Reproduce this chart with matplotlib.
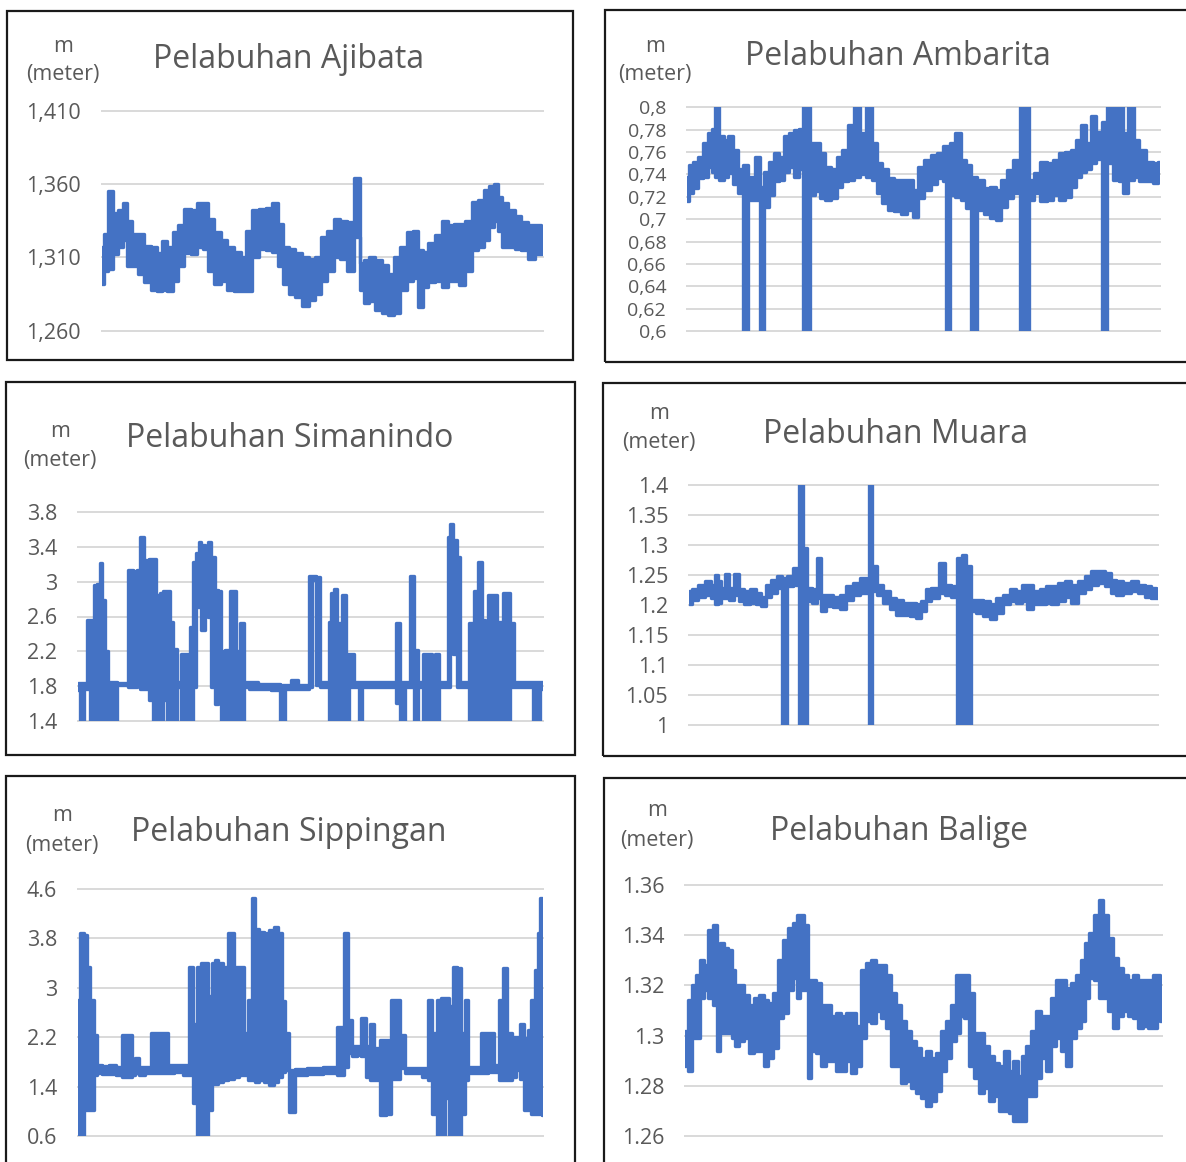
import numpy as np
import matplotlib
matplotlib.use("Agg")
import matplotlib.pyplot as plt
from matplotlib.patches import Rectangle

# ---------------- data ----------------
# sample position along the record, upper / lower envelope of the noisy trace
ajibata_t = [48, 60, 75, 90, 105, 118, 130, 145, 165, 185, 205, 220, 235, 255, 270, 285, 305, 325, 345, 360,
             375, 395, 415, 435, 455, 475, 490, 510, 530, 550, 570, 585, 600, 620, 640, 660, 680, 700, 715, 735,
             755, 775, 795, 818, 830, 845, 860, 880, 900, 920, 935, 955, 975, 990, 1005, 1020, 1040, 1060, 1080, 1100,
             1115, 1130, 1150, 1170, 1190, 1205, 1220, 1235, 1245, 1260, 1280, 1300, 1320, 1340, 1360, 1375]
ajibata_hi = [1.317, 1.326, 1.355, 1.340, 1.342, 1.347, 1.335, 1.326, 1.326, 1.318, 1.317, 1.313, 1.321, 1.317, 1.327,
              1.332, 1.343, 1.342, 1.347, 1.347, 1.336, 1.327, 1.322, 1.317, 1.314, 1.310, 1.328, 1.342, 1.343, 1.344,
              1.347, 1.333, 1.317, 1.316, 1.313, 1.310, 1.309, 1.310, 1.324, 1.328, 1.336, 1.335, 1.334, 1.364, 1.306,
              1.308, 1.310, 1.308, 1.305, 1.299, 1.310, 1.317, 1.327, 1.328, 1.315, 1.314, 1.320, 1.325, 1.335, 1.332,
              1.333, 1.333, 1.335, 1.348, 1.349, 1.356, 1.359, 1.360, 1.351, 1.347, 1.342, 1.338, 1.334, 1.332, 1.332,
              1.327]
ajibata_lo = [1.292, 1.301, 1.302, 1.312, 1.317, 1.322, 1.304, 1.304, 1.299, 1.293, 1.288, 1.287, 1.288, 1.287, 1.294,
              1.304, 1.313, 1.312, 1.317, 1.316, 1.301, 1.292, 1.294, 1.288, 1.287, 1.287, 1.287, 1.310, 1.316, 1.315,
              1.314, 1.304, 1.292, 1.285, 1.283, 1.277, 1.281, 1.285, 1.294, 1.301, 1.310, 1.309, 1.301, 1.324, 1.288,
              1.279, 1.280, 1.274, 1.272, 1.271, 1.272, 1.288, 1.294, 1.296, 1.276, 1.290, 1.293, 1.294, 1.290, 1.294,
              1.294, 1.291, 1.301, 1.315, 1.317, 1.322, 1.331, 1.335, 1.328, 1.317, 1.317, 1.316, 1.315, 1.309, 1.312,
              1.312]
ajibata_ticks = [1.410, 1.360, 1.310, 1.260]
ajibata_labels = ["1,410", "1,360", "1,310", "1,260"]

ambarita_t = [45, 55, 70, 85, 100, 115, 125, 135, 150, 165, 175, 190, 205, 220, 240, 260, 270, 285, 300, 315,
              330, 345, 360, 375, 390, 400, 410, 425, 440, 455, 470, 490, 505, 520, 540, 560, 575, 595, 610, 625,
              640, 660, 680, 700, 720, 735, 750, 770, 790, 810, 825, 830, 845, 865, 880, 895, 910, 930, 950, 970,
              985, 1000, 1020, 1040, 1060, 1070, 1085, 1100, 1120, 1140, 1160, 1175, 1195, 1215, 1225, 1240, 1255,
              1270, 1290, 1305, 1320, 1340, 1355, 1365, 1385, 1400, 1420, 1440, 1460, 1472]
ambarita_hi = [0.738, 0.748, 0.751, 0.756, 0.768, 0.777, 0.781, 0.800, 0.774, 0.771, 0.774, 0.762, 0.745, 0.748, 0.738,
               0.756, 0.729, 0.742, 0.751, 0.759, 0.756, 0.774, 0.777, 0.780, 0.781, 0.800, 0.800, 0.768, 0.768, 0.759,
               0.747, 0.745, 0.756, 0.762, 0.784, 0.800, 0.777, 0.800, 0.768, 0.750, 0.745, 0.737, 0.735, 0.735, 0.735,
               0.726, 0.747, 0.753, 0.757, 0.759, 0.765, 0.765, 0.768, 0.777, 0.753, 0.748, 0.738, 0.735, 0.728, 0.729,
               0.726, 0.735, 0.744, 0.753, 0.800, 0.800, 0.735, 0.741, 0.751, 0.750, 0.753, 0.759, 0.760, 0.762, 0.771,
               0.784, 0.768, 0.792, 0.778, 0.787, 0.800, 0.800, 0.800, 0.777, 0.800, 0.771, 0.762, 0.751, 0.750, 0.751]
ambarita_lo = [0.716, 0.723, 0.728, 0.737, 0.738, 0.747, 0.742, 0.738, 0.735, 0.738, 0.741, 0.731, 0.723, 0.600, 0.717,
               0.717, 0.600, 0.711, 0.722, 0.734, 0.735, 0.742, 0.747, 0.738, 0.745, 0.600, 0.600, 0.722, 0.725, 0.719,
               0.717, 0.719, 0.729, 0.734, 0.735, 0.738, 0.740, 0.738, 0.735, 0.723, 0.714, 0.708, 0.707, 0.705, 0.708,
               0.702, 0.719, 0.726, 0.731, 0.737, 0.734, 0.600, 0.722, 0.720, 0.717, 0.710, 0.600, 0.708, 0.705, 0.701,
               0.699, 0.711, 0.719, 0.723, 0.600, 0.600, 0.717, 0.723, 0.716, 0.717, 0.722, 0.717, 0.720, 0.729, 0.738,
               0.742, 0.745, 0.750, 0.754, 0.600, 0.750, 0.735, 0.734, 0.723, 0.735, 0.738, 0.734, 0.734, 0.732, 0.735]
ambarita_ticks = [0.80, 0.78, 0.76, 0.74, 0.72, 0.70, 0.68, 0.66, 0.64, 0.62, 0.60]
ambarita_labels = ["0,8", "0,78", "0,76", "0,74", "0,72", "0,7", "0,68", "0,66", "0,64", "0,62", "0,6"]

simanindo_t = [38, 50, 62, 70, 80, 90, 100, 107, 115, 122, 135, 150, 160, 180, 195, 210, 220, 230, 245, 260,
               268, 278, 290, 300, 310, 320, 330, 340, 355, 370, 380, 390, 400, 405, 415, 425, 435, 445, 455, 465,
               475, 490, 500, 510, 520, 535, 545, 560, 600, 640, 652, 670, 690, 710, 730, 738, 750, 762, 775, 790,
               797, 805, 815, 825, 840, 850, 862, 880, 890, 900, 950, 990, 1005, 1015, 1030, 1045, 1055, 1070, 1085,
               1100, 1110, 1120, 1135, 1150, 1155, 1165, 1175, 1185, 1195, 1210, 1225, 1240, 1250, 1260, 1270, 1280,
               1295, 1305, 1315, 1325, 1335, 1345, 1360, 1400, 1420, 1440]
simanindo_hi = [1.83, 1.83, 1.83, 2.56, 2.56, 2.96, 2.98, 3.22, 2.79, 2.20, 1.85, 1.85, 1.83, 1.83, 3.14, 3.12, 3.14,
                3.52, 3.25, 3.26, 3.26, 2.85, 2.87, 2.89, 2.89, 2.54, 2.23, 1.85, 2.17, 2.17, 2.48, 3.23, 3.33, 3.46,
                3.42, 3.31, 3.46, 3.29, 2.90, 2.89, 2.20, 2.21, 2.89, 2.89, 2.20, 2.52, 1.85, 1.84, 1.82, 1.82, 1.81,
                1.81, 1.87, 1.81, 1.81, 3.07, 3.07, 3.06, 1.85, 1.85, 2.54, 2.87, 2.92, 2.52, 2.85, 2.17, 2.17, 1.84,
                1.84, 1.84, 1.84, 1.85, 2.52, 1.84, 1.85, 3.07, 2.21, 1.85, 2.17, 2.17, 1.85, 2.17, 1.85, 1.85, 3.52,
                3.67, 3.48, 3.29, 1.85, 1.85, 2.52, 2.89, 3.23, 2.56, 2.20, 2.85, 2.85, 2.54, 2.54, 2.87, 2.87, 2.52,
                1.85, 1.85, 1.84, 1.84]
simanindo_lo = [1.75, 1.40, 1.77, 1.77, 1.40, 1.75, 1.40, 1.40, 1.40, 1.40, 1.40, 1.40, 1.81, 1.81, 1.79, 1.79, 3.06,
                1.77, 1.77, 1.64, 1.40, 1.40, 1.40, 1.64, 1.40, 1.40, 1.40, 1.79, 1.40, 1.40, 1.40, 1.79, 2.71, 2.90,
                2.44, 2.78, 2.60, 1.79, 1.59, 1.79, 1.40, 1.40, 1.40, 1.79, 1.40, 1.40, 1.79, 1.77, 1.76, 1.75, 1.40,
                1.76, 1.76, 1.76, 1.76, 1.79, 3.02, 1.81, 1.79, 1.79, 1.40, 1.40, 1.40, 1.40, 1.40, 1.40, 1.79, 1.79,
                1.40, 1.79, 1.79, 1.79, 1.60, 1.40, 1.79, 1.79, 1.40, 1.79, 1.40, 1.40, 1.79, 1.40, 1.79, 1.79, 1.79,
                2.79, 2.17, 1.79, 1.79, 1.79, 1.40, 1.40, 1.40, 1.40, 1.40, 1.40, 1.40, 1.40, 1.40, 1.40, 1.40, 1.79,
                1.79, 1.79, 1.40, 1.77]
simanindo_ticks = [3.8, 3.4, 3.0, 2.6, 2.2, 1.8, 1.4]
simanindo_labels = ["3.8", "3.4", "3", "2.6", "2.2", "1.8", "1.4"]

muara_t = [58, 75, 95, 115, 130, 140, 150, 160, 172, 185, 200, 215, 230, 250, 265, 280, 295, 315, 330, 345,
           360, 380, 395, 405, 420, 435, 447, 460, 480, 500, 520, 540, 560, 580, 595, 603, 612, 630, 650, 670,
           690, 710, 730, 745, 760, 775, 795, 818, 835, 855, 870, 885, 895, 910, 930, 950, 970, 990, 1010, 1030,
           1050, 1065, 1080, 1100, 1120, 1135, 1155, 1175, 1195, 1215, 1235, 1255, 1275, 1295, 1315, 1330, 1350,
           1370, 1395, 1415, 1435, 1450, 1465]
muara_hi = [1.223, 1.226, 1.234, 1.240, 1.234, 1.250, 1.240, 1.228, 1.251, 1.228, 1.251, 1.226, 1.223, 1.226, 1.220,
            1.214, 1.234, 1.242, 1.248, 1.245, 1.248, 1.262, 1.400, 1.295, 1.228, 1.226, 1.279, 1.217, 1.217, 1.214,
            1.217, 1.231, 1.237, 1.245, 1.245, 1.400, 1.265, 1.234, 1.223, 1.212, 1.209, 1.204, 1.204, 1.201, 1.207,
            1.226, 1.228, 1.270, 1.234, 1.231, 1.279, 1.284, 1.265, 1.209, 1.209, 1.207, 1.201, 1.212, 1.217, 1.226,
            1.223, 1.234, 1.234, 1.223, 1.226, 1.231, 1.231, 1.237, 1.240, 1.234, 1.240, 1.248, 1.256, 1.256, 1.254,
            1.242, 1.240, 1.237, 1.240, 1.234, 1.231, 1.228, 1.226]
muara_lo = [1.201, 1.209, 1.214, 1.217, 1.212, 1.201, 1.204, 1.212, 1.212, 1.209, 1.217, 1.207, 1.201, 1.204, 1.201,
            1.198, 1.214, 1.220, 1.228, 1.000, 1.231, 1.234, 1.000, 1.000, 1.207, 1.204, 1.212, 1.190, 1.198, 1.196,
            1.193, 1.209, 1.217, 1.220, 1.220, 1.000, 1.223, 1.217, 1.204, 1.193, 1.184, 1.184, 1.181, 1.179, 1.190,
            1.207, 1.212, 1.220, 1.217, 1.214, 1.000, 1.000, 1.000, 1.190, 1.187, 1.181, 1.176, 1.187, 1.201, 1.207,
            1.204, 1.207, 1.193, 1.201, 1.201, 1.204, 1.201, 1.207, 1.214, 1.204, 1.220, 1.226, 1.234, 1.237, 1.231,
            1.220, 1.217, 1.220, 1.223, 1.220, 1.214, 1.212, 1.212]
muara_ticks = [1.40, 1.35, 1.30, 1.25, 1.20, 1.15, 1.10, 1.05, 1.00]
muara_labels = ["1.4", "1.35", "1.3", "1.25", "1.2", "1.15", "1.1", "1.05", "1"]

sippingan_t = [38, 50, 60, 70, 80, 90, 100, 120, 145, 160, 180, 195, 205, 215, 230, 250, 265, 280, 300, 315,
               340, 365, 378, 390, 403, 415, 425, 435, 445, 455, 465, 480, 500, 515, 530, 545, 555, 565, 575, 590,
               605, 620, 635, 645, 655, 665, 680, 700, 750, 800, 830, 843, 855, 870, 880, 895, 910, 922, 935, 955,
               970, 985, 1000, 1010, 1030, 1060, 1085, 1095, 1110, 1125, 1135, 1145, 1160, 1170, 1185, 1195, 1205,
               1215, 1240, 1260, 1280, 1295, 1310, 1320, 1335, 1350, 1360, 1370, 1385, 1395, 1405, 1415, 1422, 1430,
               1435]
sippingan_hi = [2.80, 3.88, 3.85, 3.34, 2.80, 2.24, 1.75, 1.73, 1.75, 1.72, 2.24, 2.24, 1.72, 1.86, 1.72, 1.72, 2.26,
                2.26, 2.26, 1.75, 1.75, 1.75, 3.34, 2.42, 3.34, 3.40, 3.40, 2.86, 3.40, 3.45, 3.40, 3.34, 3.88, 3.34,
                3.34, 2.26, 2.80, 4.45, 3.96, 3.91, 3.88, 3.94, 3.99, 3.88, 2.78, 2.26, 1.67, 1.68, 1.70, 1.72, 2.37,
                3.88, 2.48, 2.05, 2.05, 2.51, 2.05, 2.42, 2.02, 2.15, 2.15, 2.80, 2.80, 2.24, 1.70, 1.70, 1.70, 2.80,
                2.26, 2.80, 2.83, 2.83, 2.70, 3.34, 3.32, 2.26, 2.80, 1.72, 1.72, 2.26, 2.26, 1.75, 2.80, 3.32, 2.26,
                2.21, 2.21, 2.42, 2.18, 2.31, 2.80, 3.29, 3.88, 4.45, 4.42]
sippingan_lo = [0.60, 0.60, 1.02, 1.02, 1.02, 1.59, 1.62, 1.60, 1.60, 1.59, 1.56, 1.56, 1.59, 1.62, 1.59, 1.62, 1.62,
                1.62, 1.62, 1.62, 1.63, 1.59, 1.59, 1.13, 0.60, 0.60, 0.60, 1.02, 1.45, 1.45, 1.48, 1.51, 1.53, 1.56,
                1.59, 1.59, 1.51, 1.51, 1.48, 1.51, 1.48, 1.43, 1.48, 1.56, 1.64, 1.67, 0.99, 1.59, 1.60, 1.62, 1.59,
                1.72, 1.94, 1.89, 1.91, 1.89, 1.56, 1.51, 1.51, 0.94, 0.96, 1.53, 1.53, 1.70, 1.62, 1.62, 1.56, 1.51,
                0.96, 0.60, 0.60, 1.21, 0.60, 0.60, 0.60, 0.96, 1.51, 1.62, 1.62, 1.62, 1.63, 1.64, 1.51, 1.51, 1.51,
                1.56, 1.67, 1.53, 1.02, 1.02, 0.96, 0.96, 0.96, 0.96, 0.94]
sippingan_ticks = [4.6, 3.8, 3.0, 2.2, 1.4, 0.6]
sippingan_labels = ["4.6", "3.8", "3", "2.2", "1.4", "0.6"]

balige_t = [45, 60, 70, 85, 95, 110, 120, 135, 145, 155, 170, 180, 190, 200, 215, 230, 245, 260, 275, 290,
            300, 315, 330, 345, 360, 375, 385, 395, 410, 415, 430, 445, 460, 475, 490, 505, 520, 535, 550, 565,
            580, 595, 610, 625, 640, 655, 670, 685, 700, 715, 730, 745, 760, 775, 790, 805, 820, 835, 850, 865,
            875, 890, 905, 920, 935, 950, 965, 980, 995, 1010, 1025, 1035, 1050, 1060, 1075, 1090, 1105, 1120,
            1135, 1150, 1165, 1180, 1195, 1210, 1225, 1240, 1250, 1265, 1280, 1295, 1305, 1320, 1335, 1350, 1365,
            1380, 1395, 1410, 1425, 1440, 1455, 1465, 1475]
balige_hi = [1.302, 1.314, 1.320, 1.324, 1.330, 1.328, 1.342, 1.344, 1.336, 1.337, 1.335, 1.334, 1.326, 1.320, 1.320,
             1.316, 1.312, 1.315, 1.316, 1.314, 1.313, 1.317, 1.330, 1.338, 1.343, 1.345, 1.348, 1.348, 1.344, 1.322,
             1.322, 1.321, 1.312, 1.312, 1.308, 1.309, 1.308, 1.309, 1.309, 1.304, 1.326, 1.329, 1.330, 1.328, 1.328,
             1.324, 1.317, 1.312, 1.306, 1.302, 1.298, 1.295, 1.291, 1.294, 1.291, 1.293, 1.302, 1.306, 1.312, 1.324,
             1.324, 1.324, 1.317, 1.301, 1.301, 1.296, 1.292, 1.289, 1.288, 1.294, 1.286, 1.290, 1.284, 1.292, 1.296,
             1.302, 1.310, 1.308, 1.308, 1.315, 1.322, 1.322, 1.319, 1.321, 1.324, 1.330, 1.337, 1.341, 1.348, 1.354,
             1.348, 1.339, 1.331, 1.327, 1.324, 1.322, 1.324, 1.322, 1.322, 1.322, 1.324, 1.324, 1.319]
balige_lo = [1.288, 1.286, 1.299, 1.299, 1.315, 1.318, 1.315, 1.312, 1.294, 1.301, 1.301, 1.301, 1.299, 1.296, 1.298,
             1.299, 1.293, 1.294, 1.294, 1.288, 1.291, 1.295, 1.307, 1.309, 1.318, 1.323, 1.315, 1.318, 1.318, 1.283,
             1.294, 1.293, 1.288, 1.290, 1.290, 1.286, 1.286, 1.290, 1.285, 1.288, 1.299, 1.306, 1.305, 1.310, 1.307,
             1.303, 1.288, 1.288, 1.281, 1.282, 1.279, 1.277, 1.275, 1.272, 1.274, 1.278, 1.286, 1.291, 1.298, 1.301,
             1.308, 1.307, 1.288, 1.283, 1.277, 1.279, 1.274, 1.276, 1.270, 1.270, 1.269, 1.266, 1.266, 1.266, 1.276,
             1.276, 1.283, 1.291, 1.286, 1.296, 1.299, 1.294, 1.288, 1.299, 1.303, 1.306, 1.315, 1.323, 1.322, 1.315,
             1.315, 1.310, 1.303, 1.308, 1.310, 1.308, 1.307, 1.303, 1.304, 1.303, 1.303, 1.307, 1.306]
balige_ticks = [1.36, 1.34, 1.32, 1.30, 1.28, 1.26]
balige_labels = ["1.36", "1.34", "1.32", "1.3", "1.28", "1.26"]

titles = ["Pelabuhan Ajibata", "Pelabuhan Ambarita", "Pelabuhan Simanindo",
          "Pelabuhan Muara", "Pelabuhan Sippingan", "Pelabuhan Balige"]
unit_top = "m"
unit_bottom = "(meter)"

# ---------------- layout ----------------
W, H = 1186, 1162
plt.rcParams['font.family'] = ['Open Sans', 'DejaVu Sans']
fig = plt.figure(figsize=(W / 100, H / 100), dpi=100)
fig.patch.set_facecolor('white')

TXT = '#595959'
LINE = '#4472C4'
GRID = '#D9D9D9'


def fx(x):
    return x / W


def fy(y):
    return 1 - y / H


panels = [
    # data, ticks, labels, tick size, plot box (x0, y0, x1, y1), frame box, title (cx, baseline), unit (cx, m, meter)
    (ajibata_t, ajibata_hi, ajibata_lo, ajibata_ticks, ajibata_labels, 15.5,
     (102, 110.7, 543, 330.7), (7, 11, 573, 360), (289, 68), (63, 52, 80)),
    (ambarita_t, ambarita_hi, ambarita_lo, ambarita_ticks, ambarita_labels, 14,
     (687, 107.3, 1160, 331), (605, 10, 1196, 362), (898, 65), (655, 52, 80)),
    (simanindo_t, simanindo_hi, simanindo_lo, simanindo_ticks, simanindo_labels, 15.5,
     (78, 512.3, 543, 720.7), (6, 382, 575, 755), (290, 447), (60, 437, 466)),
    (muara_t, muara_hi, muara_lo, muara_ticks, muara_labels, 15.5,
     (689, 485.3, 1158, 724.7), (603, 383, 1196, 756), (896, 443), (659, 419, 448)),
    (sippingan_t, sippingan_hi, sippingan_lo, sippingan_ticks, sippingan_labels, 15.5,
     (78, 889, 543, 1136), (6, 776, 575, 1180), (289, 841), (62, 821, 851)),
    (balige_t, balige_hi, balige_lo, balige_ticks, balige_labels, 15.5,
     (685, 885.3, 1161.7, 1135.7), (604, 778, 1196, 1180), (899, 840), (657, 816, 846)),
]

for i, (t, hi, lo, ticks, labels, tsize, pbox, fbox, tpos, upos) in enumerate(panels):
    # frame
    x0, y0, x1, y1 = fbox
    fig.add_artist(Rectangle((fx(x0), fy(y1)), (x1 - x0) / W, (y1 - y0) / H,
                             transform=fig.transFigure, fill=False,
                             ec='#1a1a1a', lw=1.6, zorder=0))
    # plot area
    x0, y0, x1, y1 = pbox
    ax = fig.add_axes([fx(x0), fy(y1), (x1 - x0) / W, (y1 - y0) / H])
    ax.set_facecolor('none')
    ax.fill_between(t, lo, hi, step='mid', color=LINE, lw=0, zorder=3)
    ax.step(t, hi, where='mid', color=LINE, lw=2.4, zorder=3,
            solid_joinstyle='round', solid_capstyle='round')
    ax.step(t, lo, where='mid', color=LINE, lw=2.4, zorder=3,
            solid_joinstyle='round', solid_capstyle='round')
    ax.set_xlim(t[0], t[-1])
    ax.set_ylim(min(ticks), max(ticks))
    ax.set_yticks(ticks)
    ax.set_yticklabels(labels)
    ax.set_xticks([])
    ax.grid(axis='y', color=GRID, lw=1.4)
    for gl in ax.get_ygridlines():
        gl.set_clip_on(False)
    ax.set_axisbelow(True)
    for s in ax.spines.values():
        s.set_visible(False)
    ax.tick_params(axis='y', length=0, pad=15, labelsize=tsize, labelcolor=TXT)

    # title and unit label
    fig.text(fx(tpos[0]), fy(tpos[1]), titles[i], ha='center', va='baseline',
             fontsize=23, color=TXT)
    fig.text(fx(upos[0]), fy(upos[1]), unit_top, ha='center', va='baseline',
             fontsize=15.5, color=TXT)
    fig.text(fx(upos[0]), fy(upos[2]), unit_bottom, ha='center', va='baseline',
             fontsize=15.5, color=TXT)

fig.savefig('out.png', dpi=100, facecolor='white')
